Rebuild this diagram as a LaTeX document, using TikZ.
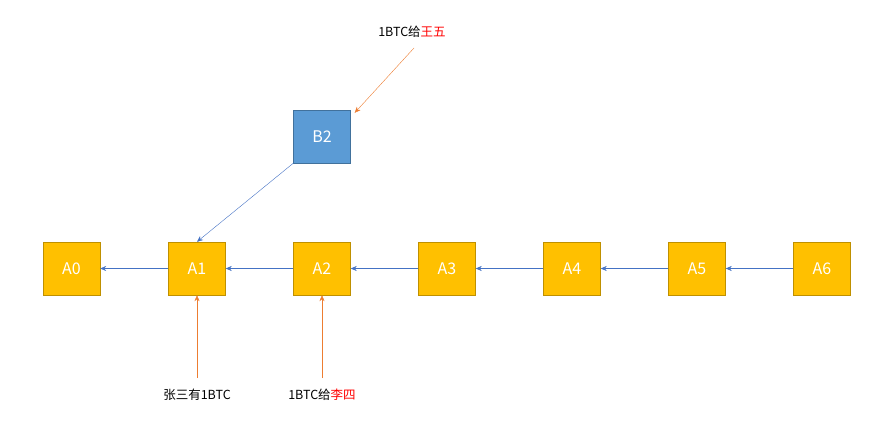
\documentclass[tikz,border=0pt]{standalone}
\usepackage{fontspec}
\setmainfont{Noto Sans CJK SC}
\usetikzlibrary{arrows.meta}
\definecolor{ybox}{HTML}{FFC000}
\definecolor{ybrd}{HTML}{BF9000}
\definecolor{bbox}{HTML}{5B9BD5}
\definecolor{bbrd}{HTML}{41719C}
\definecolor{barr}{HTML}{4472C4}
\definecolor{oarr}{HTML}{ED7D31}
\begin{document}
\begin{tikzpicture}[x=1pt,y=-1pt,
 blk/.style={draw=ybrd,fill=ybox,minimum width=57pt,minimum height=53pt,inner sep=0pt,text=white,font=\fontsize{16}{18}\selectfont},
 bblk/.style={blk,draw=bbrd,fill=bbox},
 link/.style={draw=barr,-{Stealth[length=6pt,width=5pt]}},
 oline/.style={draw=oarr,-{Stealth[length=6pt,width=5pt]}},
 lbl/.style={font=\fontsize{12.5}{14}\selectfont,inner sep=1pt}]
\useasboundingbox (0,0) rectangle (883,441);
\foreach \i/\x in {0/71.5,1/197,2/322,3/447,4/572,5/697,6/822}
  \node[blk] (A\i) at (\x,268.5) {A\i};
\node[bblk] (B2) at (322,136.5) {B2};
\foreach \a/\b in {1/0,2/1,3/2,4/3,5/4,6/5}
  \draw[link] (A\a.west) -- (A\b.east);
\draw[link] (B2.south west) -- (A1.north);
\node[lbl] (t1) at (412,32) {1BTC给\textcolor{red}{王五}};
\node[lbl] (t2) at (197,395) {张三有1BTC};
\node[lbl] (t3) at (322,395) {1BTC给\textcolor{red}{李四}};
\coordinate (o1) at (414,48);
\coordinate (o2) at (197,378);
\coordinate (o3) at (322,378);
\draw[oline] (o1) -- ([shift={(4pt,-3pt)}]B2.north east);
\draw[oline] (o2) -- (A1.south);
\draw[oline] (o3) -- (A2.south);
\end{tikzpicture}
\end{document}
